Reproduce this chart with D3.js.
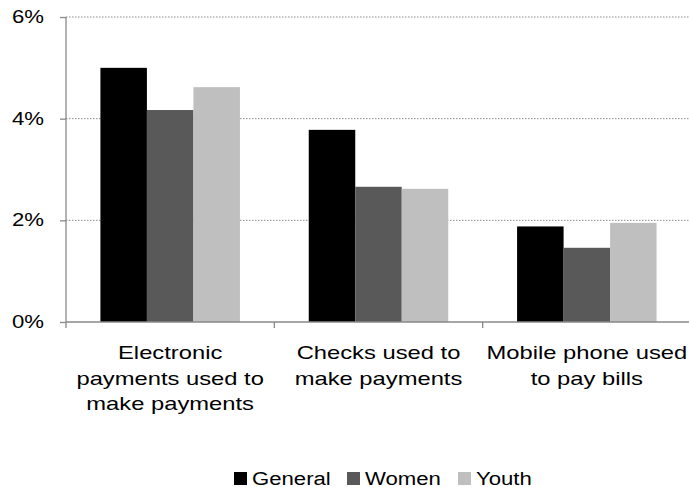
<!DOCTYPE html>
<html>
  <head>
    <meta charset="utf-8">
    <script src="https://d3js.org/d3.v7.min.js"></script>
    <style>
      body { margin: 0px; background: #fff; overflow: hidden; }
      svg { display: block; }
      text { font-family: "Liberation Sans", Arial, sans-serif; fill: #000; }
    </style>
  </head>
  <body>
    <svg width="689" height="487"></svg>
    <script>
      const categories = [
        ['Electronic', 'payments used to', 'make payments'],
        ['Checks used to', 'make payments'],
        ['Mobile phone used', 'to pay bills']
      ];
      const seriesNames = ['General', 'Women', 'Youth'];
      const seriesColors = ['#000000', '#595959', '#bfbfbf'];
      const general = [5.0, 3.78, 1.88];
      const women = [4.17, 2.66, 1.46];
      const youth = [4.62, 2.62, 1.95];
      const yTicks = [0, 2, 4, 6];

      // the reference text is a bit stretched sideways; stretch it and
      // re-anchor it from its start (align: 0 start, 0.5 middle, 1 end)
      const stretch = (sel, f, align) => sel.each(function() {
        const w = this.getComputedTextLength() * f;
        const x = +this.getAttribute('x');
        d3.select(this)
            .attr('textLength', w).attr('lengthAdjust', 'spacingAndGlyphs')
            .attr('x', x - w * align);
      });

      const margin = { left: 66, right: -2, top: 17, bottom: 165 };
      const svg = d3.select('svg');
      const width = +svg.attr('width');
      const height = +svg.attr('height');
      const innerWidth = width - margin.left - margin.right;
      const innerHeight = height - margin.top - margin.bottom;

      const g = svg.append('g')
          .attr('transform', `translate(${margin.left},${margin.top})`);

      const keys = categories.map((d, i) => i);
      const xScale = d3.scaleBand().domain(keys).range([0, innerWidth]);
      const xInner = d3.scaleBand().domain(seriesNames)
          .range([0, xScale.bandwidth()]).paddingOuter(0.74).paddingInner(0);
      const yScale = d3.scaleLinear().domain([0, 6]).range([innerHeight, 0]);

      // gridlines
      g.selectAll('.grid').data(yTicks.filter(d => d > 0))
        .enter().append('line')
          .attr('x1', 0).attr('x2', innerWidth)
          .attr('y1', d => yScale(d)).attr('y2', d => yScale(d))
          .attr('stroke', '#8c8c8c')
          .attr('stroke-dasharray', '1.5,1.5');

      const series = [general, women, youth];
      keys.forEach(i => {
        g.selectAll(null).data(seriesNames)
          .enter().append('rect')
            .attr('x', s => xScale(i) + xInner(s))
            .attr('width', xInner.bandwidth())
            .attr('y', (s, j) => yScale(series[j][i]))
            .attr('height', (s, j) => innerHeight - yScale(series[j][i]))
            .attr('fill', (s, j) => seriesColors[j]);
      });

      // y axis (lines from the axis, labels placed on the svg)
      const yAxis = d3.axisLeft(yScale).tickValues(yTicks)
          .tickFormat('').tickSize(6);
      const yAxisG = g.append('g').call(yAxis);
      yAxisG.select('.domain').attr('stroke', '#898989').attr('stroke-width', 1.3)
          .attr('d', `M0,0V${innerHeight}`);
      yAxisG.selectAll('.tick line').attr('stroke', '#898989').attr('stroke-width', 1.3);
      svg.selectAll('.ylab').data(yTicks)
        .enter().append('text')
          .attr('class', 'ylab')
          .attr('x', margin.left - 22)
          .attr('y', d => margin.top + yScale(d) + 6)
          .style('font-size', '18px')
          .text(d => d + '%')
          .call(stretch, 1.23, 1);

      // x axis
      const xAxisG = g.append('g').attr('transform', `translate(0,${innerHeight})`);
      xAxisG.append('line').attr('x1', 0).attr('x2', innerWidth)
          .attr('stroke', '#898989').attr('stroke-width', 1.3);
      xAxisG.selectAll('.xt').data(keys.concat([keys.length]))
        .enter().append('line')
          .attr('x1', d => d * xScale.step()).attr('x2', d => d * xScale.step())
          .attr('y1', 0).attr('y2', 6)
          .attr('stroke', '#898989').attr('stroke-width', 1.3);

      const labelRows = [];
      keys.forEach(i => categories[i].forEach((t, k) => labelRows.push({ i, k, t })));
      svg.selectAll('.xlab').data(labelRows)
        .enter().append('text')
          .attr('class', 'xlab')
          .style('font-size', '19px')
          .attr('x', d => margin.left + xScale(d.i) + xScale.bandwidth() / 2)
          .attr('y', d => margin.top + innerHeight + 37 + d.k * 25.5)
          .text(d => d.t)
          .call(stretch, 1.25, 0.5);

      // legend
      const legendX = [234, 347, 458];
      const legendY = 485;
      svg.selectAll('.lsw').data(seriesNames)
        .enter().append('rect')
          .attr('x', (s, j) => legendX[j]).attr('y', legendY - 13)
          .attr('width', 13).attr('height', 13)
          .attr('fill', (s, j) => seriesColors[j]);
      svg.selectAll('.ltx').data(seriesNames)
        .enter().append('text')
          .attr('x', (s, j) => legendX[j] + 18).attr('y', legendY)
          .style('font-size', '18px')
          .text(s => s)
          .call(stretch, 1.23, 0);
    </script>
  </body>
</html>
